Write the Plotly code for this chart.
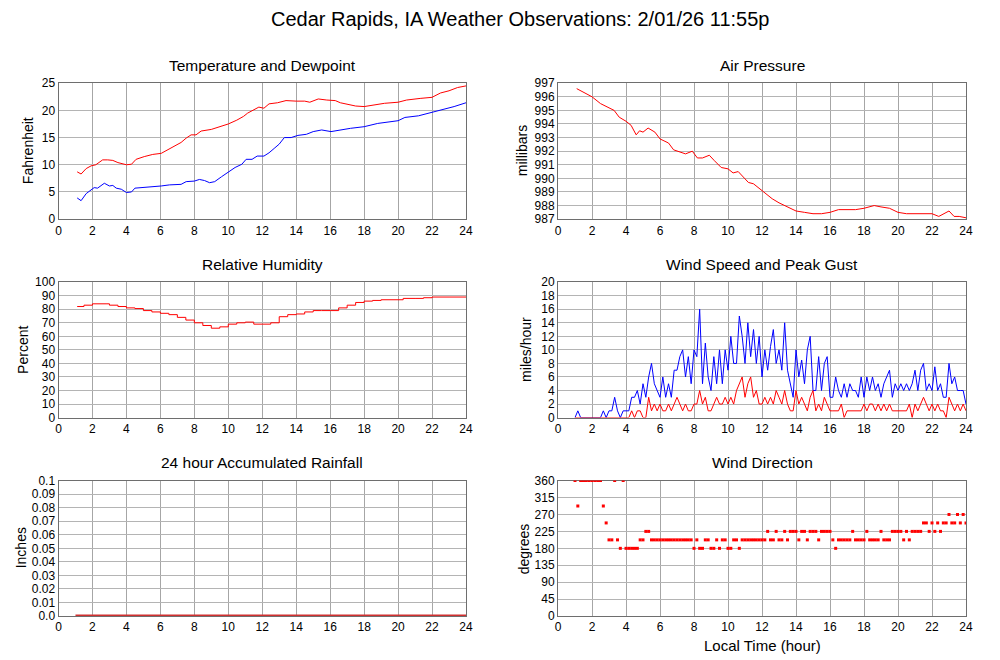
import plotly.graph_objects as go

# ---- data (hours after midnight, local time) ----
temp_hr = [1.1, 1.33, 1.63, 1.92, 2.2, 2.6, 2.9, 3.2, 3.5, 4.0, 4.3, 4.57, 5.05, 5.55, 6.05,
           6.53, 6.83, 7.22, 7.52, 7.81, 8.1, 8.4, 9.0, 9.5, 10.0, 10.5, 10.9, 11.14, 11.5,
           11.8, 12.1, 12.4, 12.9, 13.4, 14.0, 14.5, 14.8, 15.3, 15.8, 16.3, 16.6, 17.0,
           17.5, 18.0, 18.6, 19.2, 20.0, 20.5, 21.3, 22.0, 22.5, 23.0, 23.5, 24.0]
temp_f = [8.7, 8.3, 9.3, 9.8, 10.0, 10.9, 10.9, 10.8, 10.4, 10.0, 10.1, 11.0, 11.5, 11.9, 12.1,
          12.9, 13.3, 14.1, 14.9, 15.5, 15.5, 16.2, 16.5, 17.0, 17.5, 18.2, 18.9, 19.5, 20.1,
          20.6, 20.4, 21.2, 21.4, 21.8, 21.7, 21.7, 21.5, 22.1, 21.9, 21.8, 21.4, 21.1,
          20.8, 20.7, 21.0, 21.3, 21.5, 21.9, 22.2, 22.4, 23.2, 23.6, 24.2, 24.5]

dew_hr = [1.1, 1.33, 1.63, 1.92, 2.1, 2.3, 2.7, 3.0, 3.2, 3.4, 3.7, 4.0, 4.3, 4.5, 5.05, 5.55,
          6.05, 6.53, 7.22, 7.52, 8.0, 8.3, 8.6, 8.9, 9.2, 9.6, 10.0, 10.4, 10.8, 11.05, 11.4,
          11.7, 12.1, 12.4, 12.7, 13.0, 13.3, 13.7, 14.1, 14.6, 15.0, 15.5, 16.05, 16.6, 17.2,
          18.0, 18.8, 20.0, 20.4, 21.2, 22.0, 22.5, 23.3, 24.0]
dew_f = [3.9, 3.4, 4.7, 5.3, 5.8, 5.7, 6.6, 6.1, 6.2, 5.7, 5.5, 4.9, 5.0, 5.7, 5.8, 6.0,
         6.1, 6.3, 6.4, 6.9, 7.0, 7.3, 7.1, 6.7, 6.9, 7.8, 8.7, 9.5, 10.1, 11.0, 11.0,
         11.6, 11.6, 12.2, 13.0, 13.8, 15.0, 15.0, 15.4, 15.6, 16.1, 16.4, 16.1, 16.4, 16.7,
         17.0, 17.6, 18.1, 18.7, 19.0, 19.6, 20.1, 20.7, 21.4]

pres_hr = [1.1, 2.0, 2.5, 3.0, 3.3, 3.6, 4.0, 4.3, 4.6, 4.8, 5.0, 5.3, 5.7, 6.0, 6.5, 6.8,
           7.2, 7.5, 7.9, 8.2, 8.5, 8.9, 9.2, 9.6, 10.0, 10.3, 10.6, 11.0, 11.2, 11.5, 11.8,
           12.2, 12.6, 13.0, 13.5, 14.0, 14.5, 15.0, 15.5, 16.0, 16.5, 17.0, 17.5, 18.0,
           18.6, 19.0, 19.5, 20.0, 20.5, 21.0, 21.5, 22.0, 22.4, 22.7, 23.0, 23.3, 23.6, 24.0]
pres_mb = [996.6, 996.0, 995.5, 995.2, 995.0, 994.5, 994.2, 993.9, 993.2, 993.5, 993.4, 993.7,
           993.4, 992.9, 992.6, 992.1, 991.9, 991.8, 992.0, 991.5, 991.5, 991.7, 991.3, 990.8,
           990.7, 990.4, 990.5, 990.0, 989.7, 989.6, 989.3, 988.9, 988.5, 988.2, 987.9, 987.6,
           987.5, 987.4, 987.4, 987.5, 987.7, 987.7, 987.7, 987.8, 988.0, 987.9, 987.8, 987.5,
           987.4, 987.4, 987.4, 987.4, 987.2, 987.4, 987.6, 987.2, 987.2, 987.1]

rh_hr = [1.1, 1.5, 2.0, 2.8, 3.0, 3.5, 4.0, 4.5, 5.0, 5.5, 6.0, 6.5, 7.0, 7.5, 8.0, 8.5, 9.0,
         9.5, 10.0, 10.5, 11.0, 11.5, 12.0, 12.5, 13.0, 13.5, 14.0, 14.5, 15.0, 15.5, 16.0,
         16.5, 17.0, 17.5, 18.0, 18.5, 19.0, 20.0, 20.3, 21.0, 21.5, 22.0, 23.0, 24.0]
rh_pct = [82, 83, 84, 84, 83, 82, 81, 80.5, 79, 78, 77, 76, 74, 72, 70, 68, 66,
          67, 69, 70, 70.5, 69, 69, 70, 74.5, 76, 76.5, 78, 79, 79, 79,
          81, 83, 85, 86, 86.5, 87, 87, 88, 88, 88.5, 89, 89, 89]

rain_hr = [1.0, 24.0]
rain_in = [0.0, 0.0]

# wind, one reading every 10 minutes from 1:00 to 24:00
gust_mph = [0, 1, 0, 0, 0, 0,
            0, 0, 0, 0, 1, 0,
            1, 1, 3, 1, 0, 1,
            1, 1, 3, 3, 4, 2,
            5, 3, 6, 8, 5, 4,
            3, 6, 3, 5, 3, 7,
            7, 9, 10, 6, 9, 5,
            10, 9, 16, 5, 11, 6,
            4, 9, 5, 10, 5, 10,
            7, 12, 8, 8, 15, 12,
            8, 14, 9, 13, 8, 12,
            6, 10, 7, 10.5, 13, 8,
            10, 7, 14, 7, 5, 3,
            10, 6, 8.5, 5, 10, 12,
            4, 4, 9, 4, 8, 9,
            3, 3, 6, 4, 3, 5,
            3, 5, 4, 4, 3, 6,
            3, 6, 4, 6, 4, 5,
            3, 5, 6, 7, 3, 5,
            4, 5, 4, 5, 4, 5,
            7, 4, 7, 8, 4, 5,
            4, 7.5, 4, 5, 3, 3,
            8, 5, 6, 4, 4, 4,
            2]
speed_mph = [0, 0, 0, 0, 0, 0,
             0, 0, 0, 0, 0, 0,
             0, 0, 0, 0, 0, 0,
             0, 0, 1, 0, 1, 1,
             0, 0, 3, 1, 2, 1,
             2, 1, 1, 2, 1, 2,
             3, 2, 1, 2, 1, 1,
             2, 2, 4, 2, 3, 1,
             1, 2, 3, 2, 2, 3,
             2, 3, 2, 4, 5, 6,
             3, 5, 6, 3, 4, 2,
             2, 3, 2, 3, 2, 4,
             3, 2, 4, 2, 1, 1,
             4, 2, 3, 2, 1, 3,
             4, 1, 2, 1, 3, 2,
             1, 1, 1, 1, 2, 0,
             1, 1, 1, 1, 1, 1,
             2, 1, 2, 2, 1, 2,
             1, 2, 1, 2, 1, 1,
             1, 1, 1, 1, 2, 0,
             2, 1, 2, 3, 2, 1,
             2, 1, 2, 1, 1, 0,
             3, 2, 1, 2, 1, 2,
             1]
dir_deg = [360, 292.5, 360, 360, 360, 360,
           360, 360, 360, 360, 292.5, 247.5,
           202.5, 202.5, 360, 202.5, 180, 360,
           180, 180, 180, 180, 180, 202.5,
           202.5, 225, 225, 202.5, 202.5, 202.5,
           202.5, 202.5, 202.5, 202.5, 202.5, 202.5,
           202.5, 202.5, 202.5, 202.5, 202.5, 202.5,
           180, 202.5, 180, 180, 202.5, 202.5,
           180, 180, 202.5, 180, 202.5, 202.5,
           180, 180, 202.5, 202.5, 180, 202.5,
           202.5, 202.5, 202.5, 202.5, 202.5, 202.5,
           202.5, 202.5, 225, 202.5, 202.5, 225,
           202.5, 202.5, 225, 202.5, 225, 225,
           225, 202.5, 225, 225, 202.5, 225,
           225, 225, 202.5, 225, 225, 225,
           225, 202.5, 180, 202.5, 202.5, 202.5,
           202.5, 202.5, 225, 202.5, 202.5, 202.5,
           202.5, 225, 202.5, 202.5, 202.5, 202.5,
           225, 202.5, 202.5, 202.5, 225, 225,
           225, 225, 202.5, 225, 202.5, 225,
           225, 225, 225, 247.5, 247.5, 225,
           247.5, 225, 247.5, 225, 247.5, 247.5,
           270, 247.5, 247.5, 270, 247.5, 270,
           247.5]
wind_hr = [1 + i / 6 for i in range(len(gust_mph))]

# ---- layout helpers ----
W, H = 1000, 660
# the rendered plot area came out offset/shrunk; map wanted pixel positions to paper coords
OX, SX = 10.0, 0.99
OY, SY = 14.8, 0.979


def px(x):
    return (x - OX) / SX / W


def py(y):
    return 1 - (y - OY) / SY / H


LEFT = [px(57.5), px(465)]
RIGHT = [px(557), px(965)]
ROWS = [(83, 219), (282, 417.5), (480.5, 616)]
FONT = "Liberation Sans, Arial, sans-serif"


def ydom(r):
    top, bot = ROWS[r]
    return [py(bot), py(top)]


def xaxis(dom, anchor):
    return dict(domain=dom, anchor=anchor, range=[0, 24], tickmode="linear", tick0=0, dtick=2,
                showgrid=True, gridcolor="#a6a6a6", gridwidth=1, zeroline=False,
                showline=True, linecolor="#6e6e6e", linewidth=1, mirror=True, ticks="",
                layer="below traces", tickfont=dict(family=FONT, size=12, color="black"))


def yaxis(dom, anchor, rng, dtick, **kw):
    d = dict(domain=dom, anchor=anchor, range=rng, tickmode="linear", tick0=rng[0], dtick=dtick,
             showgrid=True, gridcolor="#b4b4b4", gridwidth=1, zeroline=False,
             showline=True, linecolor="#6e6e6e", linewidth=1, mirror=True, ticks="",
             layer="below traces", tickfont=dict(family=FONT, size=12, color="black"))
    d.update(kw)
    return d


fig = go.Figure()
red, blue = "#ff0000", "#0000ff"

fig.add_trace(go.Scatter(x=temp_hr, y=temp_f, mode="lines", line=dict(color=red, width=1), xaxis="x", yaxis="y"))
fig.add_trace(go.Scatter(x=dew_hr, y=dew_f, mode="lines", line=dict(color=blue, width=1), xaxis="x", yaxis="y"))
fig.add_trace(go.Scatter(x=pres_hr, y=pres_mb, mode="lines", line=dict(color=red, width=1), xaxis="x2", yaxis="y2"))
fig.add_trace(go.Scatter(x=rh_hr, y=rh_pct, mode="lines", line=dict(color=red, width=1, shape="hv"), xaxis="x3", yaxis="y3"))
fig.add_trace(go.Scatter(x=wind_hr, y=gust_mph, mode="lines", line=dict(color=blue, width=1), xaxis="x4", yaxis="y4"))
fig.add_trace(go.Scatter(x=wind_hr, y=speed_mph, mode="lines", line=dict(color=red, width=1), xaxis="x4", yaxis="y4"))
fig.add_trace(go.Scatter(x=rain_hr, y=rain_in, mode="lines", line=dict(color="#d03030", width=3), xaxis="x5", yaxis="y5"))
fig.add_trace(go.Scatter(x=wind_hr, y=dir_deg, mode="markers", marker=dict(color=red, size=3, symbol="square"),
                         xaxis="x6", yaxis="y6"))

rain_ticks = [i / 100 for i in range(11)]
rain_text = ["0.0"] + ["%.2f" % v for v in rain_ticks[1:10]] + ["0.1"]

fig.update_layout(
    width=W, height=H, margin=dict(l=0, r=0, t=0, b=0),
    paper_bgcolor="white", plot_bgcolor="white", showlegend=False,
    font=dict(family=FONT, color="black"),
    xaxis=xaxis(LEFT, "y"), yaxis=yaxis(ydom(0), "x", [0, 25], 5),
    xaxis2=xaxis(RIGHT, "y2"), yaxis2=yaxis(ydom(0), "x2", [987, 997], 1),
    xaxis3=xaxis(LEFT, "y3"), yaxis3=yaxis(ydom(1), "x3", [0, 100], 10),
    xaxis4=xaxis(RIGHT, "y4"), yaxis4=yaxis(ydom(1), "x4", [0, 20], 2),
    xaxis5=xaxis(LEFT, "y5"),
    yaxis5=yaxis(ydom(2), "x5", [0, 0.1], 0.01, tickmode="array", tickvals=rain_ticks, ticktext=rain_text),
    xaxis6=xaxis(RIGHT, "y6"), yaxis6=yaxis(ydom(2), "x6", [0, 360], 45),
)

ann = []
# main title
ann.append(dict(text="Cedar Rapids, IA Weather Observations: 2/01/26 11:55p", x=px(519), y=py(19),
                font=dict(size=20)))
# panel titles
titles = [("Temperature and Dewpoint", LEFT, 0), ("Air Pressure", RIGHT, 0),
          ("Relative Humidity", LEFT, 1), ("Wind Speed and Peak Gust", RIGHT, 1),
          ("24 hour Accumulated Rainfall", LEFT, 2), ("Wind Direction", RIGHT, 2)]
for txt, dom, r in titles:
    ann.append(dict(text=txt, x=(dom[0] + dom[1]) / 2, y=py(ROWS[r][0] - 18), font=dict(size=15.5)))
# y axis titles
ylabels = [("Fahrenheit", 27, 0), ("millibars", 521, 0), ("Percent", 22, 1),
           ("miles/hour", 525, 1), ("Inches", 20, 2), ("degrees", 523, 2)]
for txt, x0, r in ylabels:
    top, bot = ROWS[r]
    ann.append(dict(text=txt, x=px(x0), y=py((top + bot) / 2), textangle=-90, font=dict(size=14)))
ann.append(dict(text="Local Time (hour)", x=px(761), y=py(645), font=dict(size=15)))

for a in ann:
    a.update(xref="paper", yref="paper", showarrow=False, xanchor="center", yanchor="middle")
    a["font"].update(family=FONT, color="black")
fig.update_layout(annotations=ann)

fig.write_html("out.html")
